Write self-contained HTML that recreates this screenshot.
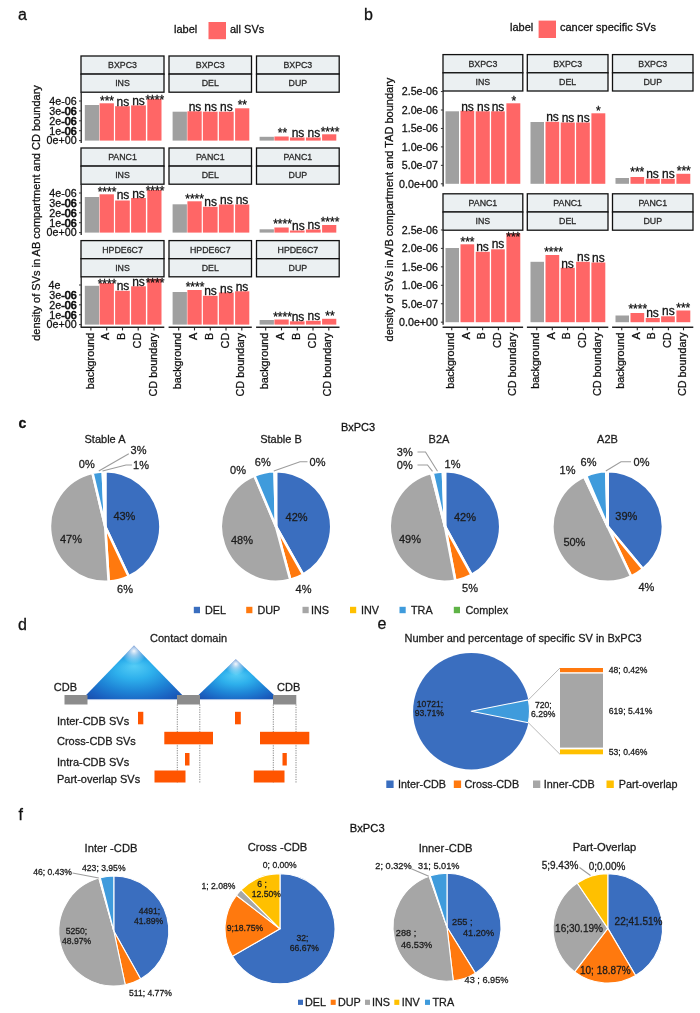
<!DOCTYPE html>
<html><head><meta charset="utf-8"><title>figure</title>
<style>html,body{margin:0;padding:0;background:#fff}svg{display:block;will-change:transform}text{font-family:"Liberation Sans",sans-serif}</style></head>
<body>
<svg width="700" height="1013" viewBox="0 0 700 1013">
<rect width="700" height="1013" fill="#ffffff"/>
<text x="18" y="19.5" font-size="16" fill="#111111" stroke="#111111" stroke-width="0.28">a</text>
<text x="174" y="33.3" font-size="11" fill="#111111" stroke="#111111" stroke-width="0.28">label</text>
<rect x="208.50" y="22.00" width="17.50" height="17.20" fill="#FF6666"/>
<text x="230" y="33.3" font-size="11" fill="#111111" stroke="#111111" stroke-width="0.28">all SVs</text>
<text x="39.6" y="213" font-size="11" text-anchor="middle" transform="rotate(-90 39.6 213)" fill="#111111" stroke="#111111" stroke-width="0.28">density of SVs in AB compartment and CD boundary</text>
<rect x="81.00" y="56.00" width="83.00" height="18.10" fill="#EBF0F2" stroke="#111" stroke-width="1.3"/>
<rect x="81.00" y="74.10" width="83.00" height="18.10" fill="#EBF0F2" stroke="#111" stroke-width="1.3"/>
<text x="122.5" y="68.05" font-size="8.8" text-anchor="middle" fill="#2a2a2a" stroke="#2a2a2a" stroke-width="0.28">BXPC3</text>
<text x="122.5" y="86.05000000000001" font-size="8.8" text-anchor="middle" fill="#2a2a2a" stroke="#2a2a2a" stroke-width="0.28">INS</text>
<rect x="84.80" y="105.00" width="14.30" height="35.60" fill="#A0A0A0"/>
<rect x="99.60" y="103.30" width="14.30" height="37.30" fill="#FF6666"/>
<rect x="115.10" y="106.20" width="14.70" height="34.40" fill="#FF6666"/>
<rect x="131.10" y="105.40" width="14.80" height="35.20" fill="#FF6666"/>
<rect x="147.30" y="98.80" width="14.20" height="41.80" fill="#FF6666"/>
<text x="107" y="104.54" font-size="12" text-anchor="middle" fill="#111" stroke="#111" stroke-width="0.28">***</text>
<text x="122.9" y="105.5" font-size="12" text-anchor="middle" fill="#111" stroke="#111" stroke-width="0.28">ns</text>
<text x="138.5" y="105" font-size="12" text-anchor="middle" fill="#111" stroke="#111" stroke-width="0.28">ns</text>
<text x="154.8" y="103.74" font-size="12" text-anchor="middle" fill="#111" stroke="#111" stroke-width="0.28">****</text>
<rect x="169.00" y="56.00" width="82.50" height="18.10" fill="#EBF0F2" stroke="#111" stroke-width="1.3"/>
<rect x="169.00" y="74.10" width="82.50" height="18.10" fill="#EBF0F2" stroke="#111" stroke-width="1.3"/>
<text x="210.25" y="68.05" font-size="8.8" text-anchor="middle" fill="#2a2a2a" stroke="#2a2a2a" stroke-width="0.28">BXPC3</text>
<text x="210.25" y="86.05000000000001" font-size="8.8" text-anchor="middle" fill="#2a2a2a" stroke="#2a2a2a" stroke-width="0.28">DEL</text>
<rect x="172.60" y="111.70" width="14.30" height="28.90" fill="#A0A0A0"/>
<rect x="187.40" y="111.30" width="14.30" height="29.30" fill="#FF6666"/>
<rect x="202.90" y="111.70" width="14.70" height="28.90" fill="#FF6666"/>
<rect x="218.90" y="111.70" width="14.80" height="28.90" fill="#FF6666"/>
<rect x="235.10" y="108.30" width="14.20" height="32.30" fill="#FF6666"/>
<text x="195" y="110.8" font-size="12" text-anchor="middle" fill="#111" stroke="#111" stroke-width="0.28">ns</text>
<text x="210.6" y="111.2" font-size="12" text-anchor="middle" fill="#111" stroke="#111" stroke-width="0.28">ns</text>
<text x="226.3" y="110.8" font-size="12" text-anchor="middle" fill="#111" stroke="#111" stroke-width="0.28">ns</text>
<text x="242.3" y="108.74" font-size="12" text-anchor="middle" fill="#111" stroke="#111" stroke-width="0.28">**</text>
<rect x="256.50" y="56.00" width="82.70" height="18.10" fill="#EBF0F2" stroke="#111" stroke-width="1.3"/>
<rect x="256.50" y="74.10" width="82.70" height="18.10" fill="#EBF0F2" stroke="#111" stroke-width="1.3"/>
<text x="297.85" y="68.05" font-size="8.8" text-anchor="middle" fill="#2a2a2a" stroke="#2a2a2a" stroke-width="0.28">BXPC3</text>
<text x="297.85" y="86.05000000000001" font-size="8.8" text-anchor="middle" fill="#2a2a2a" stroke="#2a2a2a" stroke-width="0.28">DUP</text>
<rect x="259.60" y="136.80" width="14.30" height="3.80" fill="#A0A0A0"/>
<rect x="274.40" y="136.50" width="14.30" height="4.10" fill="#FF6666"/>
<rect x="289.90" y="137.50" width="14.70" height="3.10" fill="#FF6666"/>
<rect x="305.90" y="137.50" width="14.80" height="3.10" fill="#FF6666"/>
<rect x="322.10" y="134.30" width="14.20" height="6.30" fill="#FF6666"/>
<text x="282.4" y="137.04" font-size="12" text-anchor="middle" fill="#111" stroke="#111" stroke-width="0.28">**</text>
<text x="298" y="137" font-size="12" text-anchor="middle" fill="#111" stroke="#111" stroke-width="0.28">ns</text>
<text x="313.8" y="137" font-size="12" text-anchor="middle" fill="#111" stroke="#111" stroke-width="0.28">ns</text>
<text x="330" y="135.54" font-size="12" text-anchor="middle" fill="#111" stroke="#111" stroke-width="0.28">****</text>
<line x1="81.20" y1="92.20" x2="81.20" y2="143.00" stroke="#222" stroke-width="1.3"/>
<line x1="79.00" y1="140.60" x2="81.20" y2="140.60" stroke="#333" stroke-width="1.0"/>
<text x="76.6" y="144.4" font-size="10.7" text-anchor="end" fill="#111111" stroke="#111111" stroke-width="0.28">0e+00</text>
<line x1="79.00" y1="130.70" x2="81.20" y2="130.70" stroke="#333" stroke-width="1.0"/>
<text x="76.6" y="134.5" font-size="10.7" text-anchor="end" fill="#111111" stroke="#111111" stroke-width="0.28">1e<tspan stroke-width="0.75">-06</tspan></text>
<line x1="79.00" y1="120.80" x2="81.20" y2="120.80" stroke="#333" stroke-width="1.0"/>
<text x="76.6" y="124.6" font-size="10.7" text-anchor="end" fill="#111111" stroke="#111111" stroke-width="0.28">2e<tspan stroke-width="0.75">-06</tspan></text>
<line x1="79.00" y1="110.90" x2="81.20" y2="110.90" stroke="#333" stroke-width="1.0"/>
<text x="76.6" y="114.7" font-size="10.7" text-anchor="end" fill="#111111" stroke="#111111" stroke-width="0.28">3e<tspan stroke-width="0.75">-06</tspan></text>
<line x1="79.00" y1="101.00" x2="81.20" y2="101.00" stroke="#333" stroke-width="1.0"/>
<text x="76.6" y="104.8" font-size="10.7" text-anchor="end" fill="#111111" stroke="#111111" stroke-width="0.28">4e-06</text>
<rect x="81.00" y="148.00" width="83.00" height="18.10" fill="#EBF0F2" stroke="#111" stroke-width="1.3"/>
<rect x="81.00" y="166.10" width="83.00" height="18.10" fill="#EBF0F2" stroke="#111" stroke-width="1.3"/>
<text x="122.5" y="160.05" font-size="8.8" text-anchor="middle" fill="#2a2a2a" stroke="#2a2a2a" stroke-width="0.28">PANC1</text>
<text x="122.5" y="178.05" font-size="8.8" text-anchor="middle" fill="#2a2a2a" stroke="#2a2a2a" stroke-width="0.28">INS</text>
<rect x="84.80" y="197.00" width="14.30" height="35.60" fill="#A0A0A0"/>
<rect x="99.60" y="194.30" width="14.30" height="38.30" fill="#FF6666"/>
<rect x="115.10" y="200.50" width="14.70" height="32.10" fill="#FF6666"/>
<rect x="131.10" y="198.00" width="14.80" height="34.60" fill="#FF6666"/>
<rect x="147.30" y="190.00" width="14.20" height="42.60" fill="#FF6666"/>
<text x="107" y="195.54" font-size="12" text-anchor="middle" fill="#111" stroke="#111" stroke-width="0.28">****</text>
<text x="123" y="199.3" font-size="12" text-anchor="middle" fill="#111" stroke="#111" stroke-width="0.28">ns</text>
<text x="138.5" y="197.5" font-size="12" text-anchor="middle" fill="#111" stroke="#111" stroke-width="0.28">ns</text>
<text x="155" y="194.54" font-size="12" text-anchor="middle" fill="#111" stroke="#111" stroke-width="0.28">****</text>
<rect x="169.00" y="148.00" width="82.50" height="18.10" fill="#EBF0F2" stroke="#111" stroke-width="1.3"/>
<rect x="169.00" y="166.10" width="82.50" height="18.10" fill="#EBF0F2" stroke="#111" stroke-width="1.3"/>
<text x="210.25" y="160.05" font-size="8.8" text-anchor="middle" fill="#2a2a2a" stroke="#2a2a2a" stroke-width="0.28">PANC1</text>
<text x="210.25" y="178.05" font-size="8.8" text-anchor="middle" fill="#2a2a2a" stroke="#2a2a2a" stroke-width="0.28">DEL</text>
<rect x="172.60" y="204.30" width="14.30" height="28.30" fill="#A0A0A0"/>
<rect x="187.40" y="201.30" width="14.30" height="31.30" fill="#FF6666"/>
<rect x="202.90" y="206.80" width="14.70" height="25.80" fill="#FF6666"/>
<rect x="218.90" y="204.50" width="14.80" height="28.10" fill="#FF6666"/>
<rect x="235.10" y="204.50" width="14.20" height="28.10" fill="#FF6666"/>
<text x="194.6" y="202.54" font-size="12" text-anchor="middle" fill="#111" stroke="#111" stroke-width="0.28">****</text>
<text x="210.6" y="206.3" font-size="12" text-anchor="middle" fill="#111" stroke="#111" stroke-width="0.28">ns</text>
<text x="226.3" y="204.3" font-size="12" text-anchor="middle" fill="#111" stroke="#111" stroke-width="0.28">ns</text>
<text x="242" y="204.3" font-size="12" text-anchor="middle" fill="#111" stroke="#111" stroke-width="0.28">ns</text>
<rect x="256.50" y="148.00" width="82.70" height="18.10" fill="#EBF0F2" stroke="#111" stroke-width="1.3"/>
<rect x="256.50" y="166.10" width="82.70" height="18.10" fill="#EBF0F2" stroke="#111" stroke-width="1.3"/>
<text x="297.85" y="160.05" font-size="8.8" text-anchor="middle" fill="#2a2a2a" stroke="#2a2a2a" stroke-width="0.28">PANC1</text>
<text x="297.85" y="178.05" font-size="8.8" text-anchor="middle" fill="#2a2a2a" stroke="#2a2a2a" stroke-width="0.28">DUP</text>
<rect x="259.60" y="229.30" width="14.30" height="3.30" fill="#A0A0A0"/>
<rect x="274.40" y="227.50" width="14.30" height="5.10" fill="#FF6666"/>
<rect x="289.90" y="230.50" width="14.70" height="2.10" fill="#FF6666"/>
<rect x="305.90" y="229.50" width="14.80" height="3.10" fill="#FF6666"/>
<rect x="322.10" y="225.00" width="14.20" height="7.60" fill="#FF6666"/>
<text x="282.5" y="227.54" font-size="12" text-anchor="middle" fill="#111" stroke="#111" stroke-width="0.28">****</text>
<text x="298.3" y="230" font-size="12" text-anchor="middle" fill="#111" stroke="#111" stroke-width="0.28">ns</text>
<text x="313.8" y="228.8" font-size="12" text-anchor="middle" fill="#111" stroke="#111" stroke-width="0.28">ns</text>
<text x="330" y="225.74" font-size="12" text-anchor="middle" fill="#111" stroke="#111" stroke-width="0.28">****</text>
<line x1="81.20" y1="184.20" x2="81.20" y2="235.00" stroke="#222" stroke-width="1.3"/>
<line x1="79.00" y1="232.60" x2="81.20" y2="232.60" stroke="#333" stroke-width="1.0"/>
<text x="76.6" y="236.4" font-size="10.7" text-anchor="end" fill="#111111" stroke="#111111" stroke-width="0.28">0e+00</text>
<line x1="79.00" y1="222.70" x2="81.20" y2="222.70" stroke="#333" stroke-width="1.0"/>
<text x="76.6" y="226.5" font-size="10.7" text-anchor="end" fill="#111111" stroke="#111111" stroke-width="0.28">1e<tspan stroke-width="0.75">-06</tspan></text>
<line x1="79.00" y1="212.80" x2="81.20" y2="212.80" stroke="#333" stroke-width="1.0"/>
<text x="76.6" y="216.6" font-size="10.7" text-anchor="end" fill="#111111" stroke="#111111" stroke-width="0.28">2e<tspan stroke-width="0.75">-06</tspan></text>
<line x1="79.00" y1="202.90" x2="81.20" y2="202.90" stroke="#333" stroke-width="1.0"/>
<text x="76.6" y="206.7" font-size="10.7" text-anchor="end" fill="#111111" stroke="#111111" stroke-width="0.28">3e<tspan stroke-width="0.75">-06</tspan></text>
<line x1="79.00" y1="193.00" x2="81.20" y2="193.00" stroke="#333" stroke-width="1.0"/>
<text x="76.6" y="196.8" font-size="10.7" text-anchor="end" fill="#111111" stroke="#111111" stroke-width="0.28">4e-06</text>
<rect x="81.00" y="240.60" width="83.00" height="18.10" fill="#EBF0F2" stroke="#111" stroke-width="1.3"/>
<rect x="81.00" y="258.70" width="83.00" height="18.10" fill="#EBF0F2" stroke="#111" stroke-width="1.3"/>
<text x="122.5" y="252.65" font-size="8.8" text-anchor="middle" fill="#2a2a2a" stroke="#2a2a2a" stroke-width="0.28">HPDE6C7</text>
<text x="122.5" y="270.65" font-size="8.8" text-anchor="middle" fill="#2a2a2a" stroke="#2a2a2a" stroke-width="0.28">INS</text>
<rect x="84.80" y="285.80" width="14.30" height="38.80" fill="#A0A0A0"/>
<rect x="99.60" y="283.00" width="14.30" height="41.60" fill="#FF6666"/>
<rect x="115.10" y="290.80" width="14.70" height="33.80" fill="#FF6666"/>
<rect x="131.10" y="286.30" width="14.80" height="38.30" fill="#FF6666"/>
<rect x="147.30" y="278.80" width="14.20" height="45.80" fill="#FF6666"/>
<text x="107" y="287.54" font-size="12" text-anchor="middle" fill="#111" stroke="#111" stroke-width="0.28">****</text>
<text x="123" y="290" font-size="12" text-anchor="middle" fill="#111" stroke="#111" stroke-width="0.28">ns</text>
<text x="138.5" y="285.8" font-size="12" text-anchor="middle" fill="#111" stroke="#111" stroke-width="0.28">ns</text>
<text x="155" y="287.04" font-size="12" text-anchor="middle" fill="#111" stroke="#111" stroke-width="0.28">****</text>
<rect x="169.00" y="240.60" width="82.50" height="18.10" fill="#EBF0F2" stroke="#111" stroke-width="1.3"/>
<rect x="169.00" y="258.70" width="82.50" height="18.10" fill="#EBF0F2" stroke="#111" stroke-width="1.3"/>
<text x="210.25" y="252.65" font-size="8.8" text-anchor="middle" fill="#2a2a2a" stroke="#2a2a2a" stroke-width="0.28">HPDE6C7</text>
<text x="210.25" y="270.65" font-size="8.8" text-anchor="middle" fill="#2a2a2a" stroke="#2a2a2a" stroke-width="0.28">DEL</text>
<rect x="172.60" y="292.00" width="14.30" height="32.60" fill="#A0A0A0"/>
<rect x="187.40" y="290.00" width="14.30" height="34.60" fill="#FF6666"/>
<rect x="202.90" y="295.80" width="14.70" height="28.80" fill="#FF6666"/>
<rect x="218.90" y="292.50" width="14.80" height="32.10" fill="#FF6666"/>
<rect x="235.10" y="291.30" width="14.20" height="33.30" fill="#FF6666"/>
<text x="195" y="291.24" font-size="12" text-anchor="middle" fill="#111" stroke="#111" stroke-width="0.28">****</text>
<text x="210.5" y="295" font-size="12" text-anchor="middle" fill="#111" stroke="#111" stroke-width="0.28">ns</text>
<text x="226.3" y="292.5" font-size="12" text-anchor="middle" fill="#111" stroke="#111" stroke-width="0.28">ns</text>
<text x="242" y="291.3" font-size="12" text-anchor="middle" fill="#111" stroke="#111" stroke-width="0.28">ns</text>
<rect x="256.50" y="240.60" width="82.70" height="18.10" fill="#EBF0F2" stroke="#111" stroke-width="1.3"/>
<rect x="256.50" y="258.70" width="82.70" height="18.10" fill="#EBF0F2" stroke="#111" stroke-width="1.3"/>
<text x="297.85" y="252.65" font-size="8.8" text-anchor="middle" fill="#2a2a2a" stroke="#2a2a2a" stroke-width="0.28">HPDE6C7</text>
<text x="297.85" y="270.65" font-size="8.8" text-anchor="middle" fill="#2a2a2a" stroke="#2a2a2a" stroke-width="0.28">DUP</text>
<rect x="259.60" y="320.00" width="14.30" height="4.60" fill="#A0A0A0"/>
<rect x="274.40" y="319.50" width="14.30" height="5.10" fill="#FF6666"/>
<rect x="289.90" y="321.30" width="14.70" height="3.30" fill="#FF6666"/>
<rect x="305.90" y="320.80" width="14.80" height="3.80" fill="#FF6666"/>
<rect x="322.10" y="318.80" width="14.20" height="5.80" fill="#FF6666"/>
<text x="282.5" y="320.74" font-size="12" text-anchor="middle" fill="#111" stroke="#111" stroke-width="0.28">****</text>
<text x="298" y="321.3" font-size="12" text-anchor="middle" fill="#111" stroke="#111" stroke-width="0.28">ns</text>
<text x="313.8" y="320" font-size="12" text-anchor="middle" fill="#111" stroke="#111" stroke-width="0.28">ns</text>
<text x="330" y="319.54" font-size="12" text-anchor="middle" fill="#111" stroke="#111" stroke-width="0.28">**</text>
<line x1="81.20" y1="276.80" x2="81.20" y2="327.00" stroke="#222" stroke-width="1.3"/>
<line x1="79.00" y1="324.60" x2="81.20" y2="324.60" stroke="#333" stroke-width="1.0"/>
<text x="76.6" y="328.4" font-size="10.7" text-anchor="end" fill="#111111" stroke="#111111" stroke-width="0.28">0e+00</text>
<line x1="79.00" y1="314.70" x2="81.20" y2="314.70" stroke="#333" stroke-width="1.0"/>
<text x="76.6" y="318.5" font-size="10.7" text-anchor="end" fill="#111111" stroke="#111111" stroke-width="0.28">1e<tspan stroke-width="0.75">-06</tspan></text>
<line x1="79.00" y1="304.80" x2="81.20" y2="304.80" stroke="#333" stroke-width="1.0"/>
<text x="76.6" y="308.6" font-size="10.7" text-anchor="end" fill="#111111" stroke="#111111" stroke-width="0.28">2e<tspan stroke-width="0.75">-06</tspan></text>
<line x1="79.00" y1="294.90" x2="81.20" y2="294.90" stroke="#333" stroke-width="1.0"/>
<text x="76.6" y="298.7" font-size="10.7" text-anchor="end" fill="#111111" stroke="#111111" stroke-width="0.28">3e<tspan stroke-width="0.75">-06</tspan></text>
<line x1="79.00" y1="285.00" x2="81.20" y2="285.00" stroke="#333" stroke-width="1.0"/>
<text x="48.6" y="288.8" font-size="10.7" fill="#111111" stroke="#111111" stroke-width="0.28">4e</text>
<line x1="80.60" y1="327.30" x2="164.30" y2="327.30" stroke="#222" stroke-width="1.4"/>
<line x1="90.90" y1="327.50" x2="90.90" y2="330.40" stroke="#222" stroke-width="1.1"/>
<text x="93.6" y="332.8" font-size="10.8" text-anchor="end" transform="rotate(-90 93.6 332.8)" fill="#111111" stroke="#111111" stroke-width="0.28">background</text>
<line x1="106.70" y1="327.50" x2="106.70" y2="330.40" stroke="#222" stroke-width="1.1"/>
<text x="109.4" y="332.8" font-size="10.8" text-anchor="end" transform="rotate(-90 109.4 332.8)" fill="#111111" stroke="#111111" stroke-width="0.28">A</text>
<line x1="122.50" y1="327.50" x2="122.50" y2="330.40" stroke="#222" stroke-width="1.1"/>
<text x="125.2" y="332.8" font-size="10.8" text-anchor="end" transform="rotate(-90 125.2 332.8)" fill="#111111" stroke="#111111" stroke-width="0.28">B</text>
<line x1="138.20" y1="327.50" x2="138.20" y2="330.40" stroke="#222" stroke-width="1.1"/>
<text x="140.9" y="332.8" font-size="10.8" text-anchor="end" transform="rotate(-90 140.9 332.8)" fill="#111111" stroke="#111111" stroke-width="0.28">CD</text>
<line x1="154.00" y1="327.50" x2="154.00" y2="330.40" stroke="#222" stroke-width="1.1"/>
<text x="156.7" y="332.8" font-size="10.8" text-anchor="end" transform="rotate(-90 156.7 332.8)" fill="#111111" stroke="#111111" stroke-width="0.28">CD boundary</text>
<line x1="168.60" y1="327.30" x2="251.80" y2="327.30" stroke="#222" stroke-width="1.4"/>
<line x1="178.70" y1="327.50" x2="178.70" y2="330.40" stroke="#222" stroke-width="1.1"/>
<text x="181.4" y="332.8" font-size="10.8" text-anchor="end" transform="rotate(-90 181.4 332.8)" fill="#111111" stroke="#111111" stroke-width="0.28">background</text>
<line x1="194.50" y1="327.50" x2="194.50" y2="330.40" stroke="#222" stroke-width="1.1"/>
<text x="197.2" y="332.8" font-size="10.8" text-anchor="end" transform="rotate(-90 197.2 332.8)" fill="#111111" stroke="#111111" stroke-width="0.28">A</text>
<line x1="210.30" y1="327.50" x2="210.30" y2="330.40" stroke="#222" stroke-width="1.1"/>
<text x="213.0" y="332.8" font-size="10.8" text-anchor="end" transform="rotate(-90 213.0 332.8)" fill="#111111" stroke="#111111" stroke-width="0.28">B</text>
<line x1="226.00" y1="327.50" x2="226.00" y2="330.40" stroke="#222" stroke-width="1.1"/>
<text x="228.7" y="332.8" font-size="10.8" text-anchor="end" transform="rotate(-90 228.7 332.8)" fill="#111111" stroke="#111111" stroke-width="0.28">CD</text>
<line x1="241.80" y1="327.50" x2="241.80" y2="330.40" stroke="#222" stroke-width="1.1"/>
<text x="244.5" y="332.8" font-size="10.8" text-anchor="end" transform="rotate(-90 244.5 332.8)" fill="#111111" stroke="#111111" stroke-width="0.28">CD boundary</text>
<line x1="256.10" y1="327.30" x2="339.50" y2="327.30" stroke="#222" stroke-width="1.4"/>
<line x1="265.70" y1="327.50" x2="265.70" y2="330.40" stroke="#222" stroke-width="1.1"/>
<text x="268.4" y="332.8" font-size="10.8" text-anchor="end" transform="rotate(-90 268.4 332.8)" fill="#111111" stroke="#111111" stroke-width="0.28">background</text>
<line x1="281.50" y1="327.50" x2="281.50" y2="330.40" stroke="#222" stroke-width="1.1"/>
<text x="284.2" y="332.8" font-size="10.8" text-anchor="end" transform="rotate(-90 284.2 332.8)" fill="#111111" stroke="#111111" stroke-width="0.28">A</text>
<line x1="297.30" y1="327.50" x2="297.30" y2="330.40" stroke="#222" stroke-width="1.1"/>
<text x="300.0" y="332.8" font-size="10.8" text-anchor="end" transform="rotate(-90 300.0 332.8)" fill="#111111" stroke="#111111" stroke-width="0.28">B</text>
<line x1="313.00" y1="327.50" x2="313.00" y2="330.40" stroke="#222" stroke-width="1.1"/>
<text x="315.7" y="332.8" font-size="10.8" text-anchor="end" transform="rotate(-90 315.7 332.8)" fill="#111111" stroke="#111111" stroke-width="0.28">CD</text>
<line x1="328.80" y1="327.50" x2="328.80" y2="330.40" stroke="#222" stroke-width="1.1"/>
<text x="331.5" y="332.8" font-size="10.8" text-anchor="end" transform="rotate(-90 331.5 332.8)" fill="#111111" stroke="#111111" stroke-width="0.28">CD boundary</text>
<text x="364" y="19.5" font-size="16" fill="#111111" stroke="#111111" stroke-width="0.28">b</text>
<text x="510" y="31.3" font-size="11" fill="#111111" stroke="#111111" stroke-width="0.28">label</text>
<rect x="538.60" y="20.60" width="17.40" height="17.40" fill="#FF6666"/>
<text x="560" y="31.3" font-size="11" fill="#111111" stroke="#111111" stroke-width="0.28">cancer specific SVs</text>
<text x="392.5" y="209.5" font-size="11" text-anchor="middle" transform="rotate(-90 392.5 209.5)" fill="#111111" stroke="#111111" stroke-width="0.28">density of SVs in A/B compartment and TAD boundary</text>
<rect x="443.00" y="54.60" width="79.80" height="18.20" fill="#EBF0F2" stroke="#111" stroke-width="1.3"/>
<rect x="443.00" y="72.80" width="79.80" height="18.20" fill="#EBF0F2" stroke="#111" stroke-width="1.3"/>
<text x="482.9" y="66.7" font-size="8.8" text-anchor="middle" fill="#2a2a2a" stroke="#2a2a2a" stroke-width="0.28">BXPC3</text>
<text x="482.9" y="84.80000000000001" font-size="8.8" text-anchor="middle" fill="#2a2a2a" stroke="#2a2a2a" stroke-width="0.28">INS</text>
<rect x="445.50" y="111.30" width="13.50" height="72.50" fill="#A0A0A0"/>
<rect x="460.50" y="110.80" width="13.70" height="73.00" fill="#FF6666"/>
<rect x="475.70" y="111.30" width="14.10" height="72.50" fill="#FF6666"/>
<rect x="491.10" y="111.30" width="13.70" height="72.50" fill="#FF6666"/>
<rect x="506.40" y="103.30" width="13.90" height="80.50" fill="#FF6666"/>
<text x="467.5" y="110.8" font-size="12" text-anchor="middle" fill="#111" stroke="#111" stroke-width="0.28">ns</text>
<text x="483.3" y="110.8" font-size="12" text-anchor="middle" fill="#111" stroke="#111" stroke-width="0.28">ns</text>
<text x="498" y="110.8" font-size="12" text-anchor="middle" fill="#111" stroke="#111" stroke-width="0.28">ns</text>
<text x="513.8" y="104.54" font-size="12" text-anchor="middle" fill="#111" stroke="#111" stroke-width="0.28">*</text>
<rect x="527.30" y="54.60" width="80.70" height="18.20" fill="#EBF0F2" stroke="#111" stroke-width="1.3"/>
<rect x="527.30" y="72.80" width="80.70" height="18.20" fill="#EBF0F2" stroke="#111" stroke-width="1.3"/>
<text x="567.65" y="66.7" font-size="8.8" text-anchor="middle" fill="#2a2a2a" stroke="#2a2a2a" stroke-width="0.28">BXPC3</text>
<text x="567.65" y="84.80000000000001" font-size="8.8" text-anchor="middle" fill="#2a2a2a" stroke="#2a2a2a" stroke-width="0.28">DEL</text>
<rect x="530.50" y="122.00" width="13.50" height="61.80" fill="#A0A0A0"/>
<rect x="545.50" y="121.80" width="13.70" height="62.00" fill="#FF6666"/>
<rect x="560.70" y="122.50" width="14.10" height="61.30" fill="#FF6666"/>
<rect x="576.10" y="122.50" width="13.70" height="61.30" fill="#FF6666"/>
<rect x="591.40" y="113.30" width="13.90" height="70.50" fill="#FF6666"/>
<text x="552.5" y="121.3" font-size="12" text-anchor="middle" fill="#111" stroke="#111" stroke-width="0.28">ns</text>
<text x="568" y="121.8" font-size="12" text-anchor="middle" fill="#111" stroke="#111" stroke-width="0.28">ns</text>
<text x="583.3" y="121.8" font-size="12" text-anchor="middle" fill="#111" stroke="#111" stroke-width="0.28">ns</text>
<text x="598.3" y="114.54" font-size="12" text-anchor="middle" fill="#111" stroke="#111" stroke-width="0.28">*</text>
<rect x="612.50" y="54.60" width="80.50" height="18.20" fill="#EBF0F2" stroke="#111" stroke-width="1.3"/>
<rect x="612.50" y="72.80" width="80.50" height="18.20" fill="#EBF0F2" stroke="#111" stroke-width="1.3"/>
<text x="652.75" y="66.7" font-size="8.8" text-anchor="middle" fill="#2a2a2a" stroke="#2a2a2a" stroke-width="0.28">BXPC3</text>
<text x="652.75" y="84.80000000000001" font-size="8.8" text-anchor="middle" fill="#2a2a2a" stroke="#2a2a2a" stroke-width="0.28">DUP</text>
<rect x="615.50" y="178.00" width="13.50" height="5.80" fill="#A0A0A0"/>
<rect x="630.50" y="177.00" width="13.70" height="6.80" fill="#FF6666"/>
<rect x="645.70" y="178.80" width="14.10" height="5.00" fill="#FF6666"/>
<rect x="661.10" y="178.80" width="13.70" height="5.00" fill="#FF6666"/>
<rect x="676.40" y="173.80" width="13.90" height="10.00" fill="#FF6666"/>
<text x="637.3" y="175.54" font-size="12" text-anchor="middle" fill="#111" stroke="#111" stroke-width="0.28">***</text>
<text x="652.5" y="178" font-size="12" text-anchor="middle" fill="#111" stroke="#111" stroke-width="0.28">ns</text>
<text x="668.3" y="177.5" font-size="12" text-anchor="middle" fill="#111" stroke="#111" stroke-width="0.28">ns</text>
<text x="683.8" y="174.54" font-size="12" text-anchor="middle" fill="#111" stroke="#111" stroke-width="0.28">***</text>
<line x1="443.10" y1="91.00" x2="443.10" y2="186.40" stroke="#222" stroke-width="1.3"/>
<line x1="440.90" y1="183.80" x2="443.10" y2="183.80" stroke="#333" stroke-width="1.0"/>
<text x="438" y="187.6" font-size="10.7" text-anchor="end" fill="#111111" stroke="#111111" stroke-width="0.28">0.0e+00</text>
<line x1="440.90" y1="165.35" x2="443.10" y2="165.35" stroke="#333" stroke-width="1.0"/>
<text x="438" y="169.15" font-size="10.7" text-anchor="end" fill="#111111" stroke="#111111" stroke-width="0.28">5.0e-07</text>
<line x1="440.90" y1="146.90" x2="443.10" y2="146.90" stroke="#333" stroke-width="1.0"/>
<text x="438" y="150.7" font-size="10.7" text-anchor="end" fill="#111111" stroke="#111111" stroke-width="0.28">1.0e-06</text>
<line x1="440.90" y1="128.45" x2="443.10" y2="128.45" stroke="#333" stroke-width="1.0"/>
<text x="438" y="132.25" font-size="10.7" text-anchor="end" fill="#111111" stroke="#111111" stroke-width="0.28">1.5e-06</text>
<line x1="440.90" y1="110.00" x2="443.10" y2="110.00" stroke="#333" stroke-width="1.0"/>
<text x="438" y="113.8" font-size="10.7" text-anchor="end" fill="#111111" stroke="#111111" stroke-width="0.28">2.0e-06</text>
<line x1="440.90" y1="91.55" x2="443.10" y2="91.55" stroke="#333" stroke-width="1.0"/>
<text x="438" y="95.35" font-size="10.7" text-anchor="end" fill="#111111" stroke="#111111" stroke-width="0.28">2.5e-06</text>
<rect x="443.00" y="193.80" width="79.80" height="18.20" fill="#EBF0F2" stroke="#111" stroke-width="1.3"/>
<rect x="443.00" y="212.00" width="79.80" height="18.20" fill="#EBF0F2" stroke="#111" stroke-width="1.3"/>
<text x="482.9" y="205.9" font-size="8.8" text-anchor="middle" fill="#2a2a2a" stroke="#2a2a2a" stroke-width="0.28">PANC1</text>
<text x="482.9" y="224.00000000000003" font-size="8.8" text-anchor="middle" fill="#2a2a2a" stroke="#2a2a2a" stroke-width="0.28">INS</text>
<rect x="445.50" y="248.00" width="13.50" height="74.20" fill="#A0A0A0"/>
<rect x="460.50" y="244.30" width="13.70" height="77.90" fill="#FF6666"/>
<rect x="475.70" y="251.80" width="14.10" height="70.40" fill="#FF6666"/>
<rect x="491.10" y="249.30" width="13.70" height="72.90" fill="#FF6666"/>
<rect x="506.40" y="233.30" width="13.90" height="88.90" fill="#FF6666"/>
<text x="467.5" y="245.54" font-size="12" text-anchor="middle" fill="#111" stroke="#111" stroke-width="0.28">***</text>
<text x="482.5" y="251.3" font-size="12" text-anchor="middle" fill="#111" stroke="#111" stroke-width="0.28">ns</text>
<text x="498" y="248.3" font-size="12" text-anchor="middle" fill="#111" stroke="#111" stroke-width="0.28">ns</text>
<text x="513.3" y="240.54" font-size="12" text-anchor="middle" fill="#111" stroke="#111" stroke-width="0.28">***</text>
<rect x="527.30" y="193.80" width="80.70" height="18.20" fill="#EBF0F2" stroke="#111" stroke-width="1.3"/>
<rect x="527.30" y="212.00" width="80.70" height="18.20" fill="#EBF0F2" stroke="#111" stroke-width="1.3"/>
<text x="567.65" y="205.9" font-size="8.8" text-anchor="middle" fill="#2a2a2a" stroke="#2a2a2a" stroke-width="0.28">PANC1</text>
<text x="567.65" y="224.00000000000003" font-size="8.8" text-anchor="middle" fill="#2a2a2a" stroke="#2a2a2a" stroke-width="0.28">DEL</text>
<rect x="530.50" y="261.80" width="13.50" height="60.40" fill="#A0A0A0"/>
<rect x="545.50" y="255.00" width="13.70" height="67.20" fill="#FF6666"/>
<rect x="560.70" y="267.80" width="14.10" height="54.40" fill="#FF6666"/>
<rect x="576.10" y="261.80" width="13.70" height="60.40" fill="#FF6666"/>
<rect x="591.40" y="262.50" width="13.90" height="59.70" fill="#FF6666"/>
<text x="553.5" y="256.24" font-size="12" text-anchor="middle" fill="#111" stroke="#111" stroke-width="0.28">****</text>
<text x="567.5" y="267.5" font-size="12" text-anchor="middle" fill="#111" stroke="#111" stroke-width="0.28">ns</text>
<text x="583.3" y="261.3" font-size="12" text-anchor="middle" fill="#111" stroke="#111" stroke-width="0.28">ns</text>
<text x="598.3" y="262" font-size="12" text-anchor="middle" fill="#111" stroke="#111" stroke-width="0.28">ns</text>
<rect x="612.50" y="193.80" width="80.50" height="18.20" fill="#EBF0F2" stroke="#111" stroke-width="1.3"/>
<rect x="612.50" y="212.00" width="80.50" height="18.20" fill="#EBF0F2" stroke="#111" stroke-width="1.3"/>
<text x="652.75" y="205.9" font-size="8.8" text-anchor="middle" fill="#2a2a2a" stroke="#2a2a2a" stroke-width="0.28">PANC1</text>
<text x="652.75" y="224.00000000000003" font-size="8.8" text-anchor="middle" fill="#2a2a2a" stroke="#2a2a2a" stroke-width="0.28">DUP</text>
<rect x="615.50" y="315.50" width="13.50" height="6.70" fill="#A0A0A0"/>
<rect x="630.50" y="313.00" width="13.70" height="9.20" fill="#FF6666"/>
<rect x="645.70" y="318.00" width="14.10" height="4.20" fill="#FF6666"/>
<rect x="661.10" y="316.30" width="13.70" height="5.90" fill="#FF6666"/>
<rect x="676.40" y="310.50" width="13.90" height="11.70" fill="#FF6666"/>
<text x="637.8" y="313.24" font-size="12" text-anchor="middle" fill="#111" stroke="#111" stroke-width="0.28">****</text>
<text x="652.5" y="317" font-size="12" text-anchor="middle" fill="#111" stroke="#111" stroke-width="0.28">ns</text>
<text x="668.3" y="315" font-size="12" text-anchor="middle" fill="#111" stroke="#111" stroke-width="0.28">ns</text>
<text x="683.3" y="312.04" font-size="12" text-anchor="middle" fill="#111" stroke="#111" stroke-width="0.28">***</text>
<line x1="443.10" y1="230.20" x2="443.10" y2="324.80" stroke="#222" stroke-width="1.3"/>
<line x1="440.90" y1="322.20" x2="443.10" y2="322.20" stroke="#333" stroke-width="1.0"/>
<text x="438" y="326.0" font-size="10.7" text-anchor="end" fill="#111111" stroke="#111111" stroke-width="0.28">0.0e+00</text>
<line x1="440.90" y1="303.75" x2="443.10" y2="303.75" stroke="#333" stroke-width="1.0"/>
<text x="438" y="307.55" font-size="10.7" text-anchor="end" fill="#111111" stroke="#111111" stroke-width="0.28">5.0e-07</text>
<line x1="440.90" y1="285.30" x2="443.10" y2="285.30" stroke="#333" stroke-width="1.0"/>
<text x="438" y="289.1" font-size="10.7" text-anchor="end" fill="#111111" stroke="#111111" stroke-width="0.28">1.0e-06</text>
<line x1="440.90" y1="266.85" x2="443.10" y2="266.85" stroke="#333" stroke-width="1.0"/>
<text x="438" y="270.65" font-size="10.7" text-anchor="end" fill="#111111" stroke="#111111" stroke-width="0.28">1.5e-06</text>
<line x1="440.90" y1="248.40" x2="443.10" y2="248.40" stroke="#333" stroke-width="1.0"/>
<text x="438" y="252.2" font-size="10.7" text-anchor="end" fill="#111111" stroke="#111111" stroke-width="0.28">2.0e-06</text>
<line x1="440.90" y1="229.95" x2="443.10" y2="229.95" stroke="#333" stroke-width="1.0"/>
<text x="438" y="233.75" font-size="10.7" text-anchor="end" fill="#111111" stroke="#111111" stroke-width="0.28">2.5e-06</text>
<line x1="442.60" y1="327.20" x2="523.10" y2="327.20" stroke="#222" stroke-width="1.4"/>
<line x1="451.75" y1="327.40" x2="451.75" y2="330.30" stroke="#222" stroke-width="1.1"/>
<text x="454.45" y="332.4" font-size="10.8" text-anchor="end" transform="rotate(-90 454.45 332.4)" fill="#111111" stroke="#111111" stroke-width="0.28">background</text>
<line x1="467.30" y1="327.40" x2="467.30" y2="330.30" stroke="#222" stroke-width="1.1"/>
<text x="470.0" y="332.4" font-size="10.8" text-anchor="end" transform="rotate(-90 470.0 332.4)" fill="#111111" stroke="#111111" stroke-width="0.28">A</text>
<line x1="482.60" y1="327.40" x2="482.60" y2="330.30" stroke="#222" stroke-width="1.1"/>
<text x="485.3" y="332.4" font-size="10.8" text-anchor="end" transform="rotate(-90 485.3 332.4)" fill="#111111" stroke="#111111" stroke-width="0.28">B</text>
<line x1="498.40" y1="327.40" x2="498.40" y2="330.30" stroke="#222" stroke-width="1.1"/>
<text x="501.1" y="332.4" font-size="10.8" text-anchor="end" transform="rotate(-90 501.1 332.4)" fill="#111111" stroke="#111111" stroke-width="0.28">CD</text>
<line x1="513.50" y1="327.40" x2="513.50" y2="330.30" stroke="#222" stroke-width="1.1"/>
<text x="516.2" y="332.4" font-size="10.8" text-anchor="end" transform="rotate(-90 516.2 332.4)" fill="#111111" stroke="#111111" stroke-width="0.28">CD boundary</text>
<line x1="526.90" y1="327.20" x2="608.30" y2="327.20" stroke="#222" stroke-width="1.4"/>
<line x1="536.75" y1="327.40" x2="536.75" y2="330.30" stroke="#222" stroke-width="1.1"/>
<text x="539.45" y="332.4" font-size="10.8" text-anchor="end" transform="rotate(-90 539.45 332.4)" fill="#111111" stroke="#111111" stroke-width="0.28">background</text>
<line x1="552.30" y1="327.40" x2="552.30" y2="330.30" stroke="#222" stroke-width="1.1"/>
<text x="555.0" y="332.4" font-size="10.8" text-anchor="end" transform="rotate(-90 555.0 332.4)" fill="#111111" stroke="#111111" stroke-width="0.28">A</text>
<line x1="567.60" y1="327.40" x2="567.60" y2="330.30" stroke="#222" stroke-width="1.1"/>
<text x="570.3" y="332.4" font-size="10.8" text-anchor="end" transform="rotate(-90 570.3 332.4)" fill="#111111" stroke="#111111" stroke-width="0.28">B</text>
<line x1="583.40" y1="327.40" x2="583.40" y2="330.30" stroke="#222" stroke-width="1.1"/>
<text x="586.1" y="332.4" font-size="10.8" text-anchor="end" transform="rotate(-90 586.1 332.4)" fill="#111111" stroke="#111111" stroke-width="0.28">CD</text>
<line x1="598.50" y1="327.40" x2="598.50" y2="330.30" stroke="#222" stroke-width="1.1"/>
<text x="601.2" y="332.4" font-size="10.8" text-anchor="end" transform="rotate(-90 601.2 332.4)" fill="#111111" stroke="#111111" stroke-width="0.28">CD boundary</text>
<line x1="612.10" y1="327.20" x2="693.30" y2="327.20" stroke="#222" stroke-width="1.4"/>
<line x1="621.75" y1="327.40" x2="621.75" y2="330.30" stroke="#222" stroke-width="1.1"/>
<text x="624.45" y="332.4" font-size="10.8" text-anchor="end" transform="rotate(-90 624.45 332.4)" fill="#111111" stroke="#111111" stroke-width="0.28">background</text>
<line x1="637.30" y1="327.40" x2="637.30" y2="330.30" stroke="#222" stroke-width="1.1"/>
<text x="640.0" y="332.4" font-size="10.8" text-anchor="end" transform="rotate(-90 640.0 332.4)" fill="#111111" stroke="#111111" stroke-width="0.28">A</text>
<line x1="652.60" y1="327.40" x2="652.60" y2="330.30" stroke="#222" stroke-width="1.1"/>
<text x="655.3" y="332.4" font-size="10.8" text-anchor="end" transform="rotate(-90 655.3 332.4)" fill="#111111" stroke="#111111" stroke-width="0.28">B</text>
<line x1="668.40" y1="327.40" x2="668.40" y2="330.30" stroke="#222" stroke-width="1.1"/>
<text x="671.1" y="332.4" font-size="10.8" text-anchor="end" transform="rotate(-90 671.1 332.4)" fill="#111111" stroke="#111111" stroke-width="0.28">CD</text>
<line x1="683.50" y1="327.40" x2="683.50" y2="330.30" stroke="#222" stroke-width="1.1"/>
<text x="686.2" y="332.4" font-size="10.8" text-anchor="end" transform="rotate(-90 686.2 332.4)" fill="#111111" stroke="#111111" stroke-width="0.28">CD boundary</text>
<text x="18.5" y="428.2" font-size="14" font-weight="bold" fill="#111111" stroke="#111111" stroke-width="0.28">c</text>
<text x="358" y="430.8" font-size="11" text-anchor="middle" fill="#111111" stroke="#111111" stroke-width="0.28">BxPC3</text>
<path d="M105.20,526.50 L105.20,471.30 A55.2,55.2 0 0 1 128.70,576.45 Z" fill="#3A6EBF" stroke="#fff" stroke-width="2.6" stroke-linejoin="round"/>
<path d="M105.20,526.50 L128.70,576.45 A55.2,55.2 0 0 1 108.67,581.59 Z" fill="#FF790E" stroke="#fff" stroke-width="2.6" stroke-linejoin="round"/>
<path d="M105.20,526.50 L108.67,581.59 A55.2,55.2 0 0 1 92.48,472.78 Z" fill="#A6A6A6" stroke="#fff" stroke-width="2.6" stroke-linejoin="round"/>
<path d="M105.20,526.50 L92.48,472.78 A55.2,55.2 0 0 1 102.77,471.35 Z" fill="#3F9BDC" stroke="#fff" stroke-width="2.6" stroke-linejoin="round"/>
<path d="M105.20,526.50 L102.77,471.35 A55.2,55.2 0 0 1 105.20,471.30 Z" fill="#FFFFFF" stroke="#fff" stroke-width="2.6" stroke-linejoin="round"/>
<text x="105" y="442.96" font-size="11" text-anchor="middle" fill="#1c1c1c" stroke="#1c1c1c" stroke-width="0.28">Stable A</text>
<text x="138.5" y="453.96" font-size="11" text-anchor="middle" fill="#1c1c1c" stroke="#1c1c1c" stroke-width="0.28">3%</text>
<text x="141" y="468.96" font-size="11" text-anchor="middle" fill="#1c1c1c" stroke="#1c1c1c" stroke-width="0.28">1%</text>
<text x="86.8" y="467.76" font-size="11" text-anchor="middle" fill="#1c1c1c" stroke="#1c1c1c" stroke-width="0.28">0%</text>
<text x="124.4" y="519.96" font-size="11" text-anchor="middle" fill="#1c1c1c" stroke="#1c1c1c" stroke-width="0.28">43%</text>
<text x="71" y="542.96" font-size="11" text-anchor="middle" fill="#1c1c1c" stroke="#1c1c1c" stroke-width="0.28">47%</text>
<text x="125" y="592.76" font-size="11" text-anchor="middle" fill="#1c1c1c" stroke="#1c1c1c" stroke-width="0.28">6%</text>
<polyline points="98.80,471.00 128.80,453.80" fill="none" stroke="#9C9C9C" stroke-width="1.1"/>
<polyline points="102.50,471.00 126.00,465.00 132.00,465.00" fill="none" stroke="#9C9C9C" stroke-width="1.1"/>
<path d="M276.00,526.50 L276.00,471.30 A55.2,55.2 0 0 1 303.10,574.59 Z" fill="#3A6EBF" stroke="#fff" stroke-width="2.6" stroke-linejoin="round"/>
<path d="M276.00,526.50 L303.10,574.59 A55.2,55.2 0 0 1 290.34,579.80 Z" fill="#FF790E" stroke="#fff" stroke-width="2.6" stroke-linejoin="round"/>
<path d="M276.00,526.50 L290.34,579.80 A55.2,55.2 0 0 1 254.48,475.67 Z" fill="#A6A6A6" stroke="#fff" stroke-width="2.6" stroke-linejoin="round"/>
<path d="M276.00,526.50 L254.48,475.67 A55.2,55.2 0 0 1 274.62,471.32 Z" fill="#3F9BDC" stroke="#fff" stroke-width="2.6" stroke-linejoin="round"/>
<path d="M276.00,526.50 L274.62,471.32 A55.2,55.2 0 0 1 276.00,471.30 Z" fill="#FFFFFF" stroke="#fff" stroke-width="2.6" stroke-linejoin="round"/>
<text x="281" y="442.96" font-size="11" text-anchor="middle" fill="#1c1c1c" stroke="#1c1c1c" stroke-width="0.28">Stable B</text>
<text x="262.8" y="466.46" font-size="11" text-anchor="middle" fill="#1c1c1c" stroke="#1c1c1c" stroke-width="0.28">6%</text>
<text x="238" y="473.96" font-size="11" text-anchor="middle" fill="#1c1c1c" stroke="#1c1c1c" stroke-width="0.28">0%</text>
<text x="317.5" y="465.76" font-size="11" text-anchor="middle" fill="#1c1c1c" stroke="#1c1c1c" stroke-width="0.28">0%</text>
<text x="296.6" y="520.76" font-size="11" text-anchor="middle" fill="#1c1c1c" stroke="#1c1c1c" stroke-width="0.28">42%</text>
<text x="242" y="544.46" font-size="11" text-anchor="middle" fill="#1c1c1c" stroke="#1c1c1c" stroke-width="0.28">48%</text>
<text x="303.5" y="592.76" font-size="11" text-anchor="middle" fill="#1c1c1c" stroke="#1c1c1c" stroke-width="0.28">4%</text>
<polyline points="273.80,471.00 300.00,461.80 307.50,461.80" fill="none" stroke="#9C9C9C" stroke-width="1.1"/>
<path d="M445.00,526.50 L445.00,471.30 A55.2,55.2 0 0 1 471.59,574.87 Z" fill="#3A6EBF" stroke="#fff" stroke-width="2.6" stroke-linejoin="round"/>
<path d="M445.00,526.50 L471.59,574.87 A55.2,55.2 0 0 1 455.34,580.72 Z" fill="#FF790E" stroke="#fff" stroke-width="2.6" stroke-linejoin="round"/>
<path d="M445.00,526.50 L455.34,580.72 A55.2,55.2 0 0 1 431.27,473.03 Z" fill="#A6A6A6" stroke="#fff" stroke-width="2.6" stroke-linejoin="round"/>
<path d="M445.00,526.50 L431.27,473.03 A55.2,55.2 0 0 1 432.62,472.71 Z" fill="#FFFFFF" stroke="#fff" stroke-width="2.6" stroke-linejoin="round"/>
<path d="M445.00,526.50 L432.62,472.71 A55.2,55.2 0 0 1 442.92,471.34 Z" fill="#3F9BDC" stroke="#fff" stroke-width="2.6" stroke-linejoin="round"/>
<path d="M445.00,526.50 L442.92,471.34 A55.2,55.2 0 0 1 445.00,471.30 Z" fill="#FFFFFF" stroke="#fff" stroke-width="2.6" stroke-linejoin="round"/>
<text x="439" y="442.96" font-size="11" text-anchor="middle" fill="#1c1c1c" stroke="#1c1c1c" stroke-width="0.28">B2A</text>
<text x="404.8" y="455.96" font-size="11" text-anchor="middle" fill="#1c1c1c" stroke="#1c1c1c" stroke-width="0.28">3%</text>
<text x="404.8" y="468.96" font-size="11" text-anchor="middle" fill="#1c1c1c" stroke="#1c1c1c" stroke-width="0.28">0%</text>
<text x="452.5" y="467.76" font-size="11" text-anchor="middle" fill="#1c1c1c" stroke="#1c1c1c" stroke-width="0.28">1%</text>
<text x="465" y="520.76" font-size="11" text-anchor="middle" fill="#1c1c1c" stroke="#1c1c1c" stroke-width="0.28">42%</text>
<text x="410" y="543.26" font-size="11" text-anchor="middle" fill="#1c1c1c" stroke="#1c1c1c" stroke-width="0.28">49%</text>
<text x="470" y="591.96" font-size="11" text-anchor="middle" fill="#1c1c1c" stroke="#1c1c1c" stroke-width="0.28">5%</text>
<polyline points="417.50,452.00 425.50,452.00 437.50,471.30" fill="none" stroke="#9C9C9C" stroke-width="1.1"/>
<polyline points="417.50,465.00 427.50,465.00 432.50,471.30" fill="none" stroke="#9C9C9C" stroke-width="1.1"/>
<path d="M607.70,526.50 L607.70,471.30 A55.2,55.2 0 0 1 642.89,569.03 Z" fill="#3A6EBF" stroke="#fff" stroke-width="2.6" stroke-linejoin="round"/>
<path d="M607.70,526.50 L642.89,569.03 A55.2,55.2 0 0 1 631.20,576.45 Z" fill="#FF790E" stroke="#fff" stroke-width="2.6" stroke-linejoin="round"/>
<path d="M607.70,526.50 L631.20,576.45 A55.2,55.2 0 0 1 584.20,476.55 Z" fill="#A6A6A6" stroke="#fff" stroke-width="2.6" stroke-linejoin="round"/>
<path d="M607.70,526.50 L584.20,476.55 A55.2,55.2 0 0 1 586.10,475.70 Z" fill="#FFFFFF" stroke="#fff" stroke-width="2.6" stroke-linejoin="round"/>
<path d="M607.70,526.50 L586.10,475.70 A55.2,55.2 0 0 1 606.31,471.32 Z" fill="#3F9BDC" stroke="#fff" stroke-width="2.6" stroke-linejoin="round"/>
<path d="M607.70,526.50 L606.31,471.32 A55.2,55.2 0 0 1 607.70,471.30 Z" fill="#FFFFFF" stroke="#fff" stroke-width="2.6" stroke-linejoin="round"/>
<text x="607.5" y="442.96" font-size="11" text-anchor="middle" fill="#1c1c1c" stroke="#1c1c1c" stroke-width="0.28">A2B</text>
<text x="588.5" y="465.76" font-size="11" text-anchor="middle" fill="#1c1c1c" stroke="#1c1c1c" stroke-width="0.28">6%</text>
<text x="567.5" y="473.96" font-size="11" text-anchor="middle" fill="#1c1c1c" stroke="#1c1c1c" stroke-width="0.28">1%</text>
<text x="641.5" y="465.76" font-size="11" text-anchor="middle" fill="#1c1c1c" stroke="#1c1c1c" stroke-width="0.28">0%</text>
<text x="626.3" y="519.96" font-size="11" text-anchor="middle" fill="#1c1c1c" stroke="#1c1c1c" stroke-width="0.28">39%</text>
<text x="574.4" y="546.46" font-size="11" text-anchor="middle" fill="#1c1c1c" stroke="#1c1c1c" stroke-width="0.28">50%</text>
<text x="646.4" y="590.76" font-size="11" text-anchor="middle" fill="#1c1c1c" stroke="#1c1c1c" stroke-width="0.28">4%</text>
<polyline points="605.80,471.00 621.00,461.80 631.00,461.80" fill="none" stroke="#9C9C9C" stroke-width="1.1"/>
<rect x="193.80" y="606.80" width="6.20" height="6.40" fill="#3A6EBF"/>
<text x="205" y="613.9" font-size="10.8" fill="#1c1c1c" stroke="#1c1c1c" stroke-width="0.28">DEL</text>
<rect x="246.20" y="606.80" width="6.20" height="6.40" fill="#FF790E"/>
<text x="257.5" y="613.9" font-size="10.8" fill="#1c1c1c" stroke="#1c1c1c" stroke-width="0.28">DUP</text>
<rect x="302.50" y="606.80" width="6.20" height="6.40" fill="#A6A6A6"/>
<text x="311" y="613.9" font-size="10.8" fill="#1c1c1c" stroke="#1c1c1c" stroke-width="0.28">INS</text>
<rect x="350.00" y="606.80" width="6.20" height="6.40" fill="#FFC000"/>
<text x="361" y="613.9" font-size="10.8" fill="#1c1c1c" stroke="#1c1c1c" stroke-width="0.28">INV</text>
<rect x="399.50" y="606.80" width="6.20" height="6.40" fill="#3F9BDC"/>
<text x="411" y="613.9" font-size="10.8" fill="#1c1c1c" stroke="#1c1c1c" stroke-width="0.28">TRA</text>
<rect x="453.80" y="606.80" width="6.20" height="6.40" fill="#5FB346"/>
<text x="465.5" y="613.9" font-size="10.8" fill="#1c1c1c" stroke="#1c1c1c" stroke-width="0.28">Complex</text>
<text x="18" y="629.5" font-size="16" fill="#111111" stroke="#111111" stroke-width="0.28">d</text>
<text x="150" y="642" font-size="11" fill="#1c1c1c" stroke="#1c1c1c" stroke-width="0.28">Contact domain</text>
<defs>
<radialGradient id="tg" cx="0.5" cy="0.58" r="0.6" fx="0.5" fy="0.38">
<stop offset="0" stop-color="#55CDF6"/><stop offset="0.3" stop-color="#2EB0EC"/><stop offset="0.6" stop-color="#1E84D6"/><stop offset="0.85" stop-color="#1A60C0"/><stop offset="1" stop-color="#194FAC"/>
</radialGradient>
<radialGradient id="hl1" gradientUnits="userSpaceOnUse" cx="134" cy="651" r="13">
<stop offset="0" stop-color="#fff" stop-opacity="0.95"/><stop offset="0.35" stop-color="#fff" stop-opacity="0.55"/><stop offset="1" stop-color="#fff" stop-opacity="0"/>
</radialGradient>
<radialGradient id="hl2" gradientUnits="userSpaceOnUse" cx="235.8" cy="664" r="11">
<stop offset="0" stop-color="#fff" stop-opacity="0.95"/><stop offset="0.35" stop-color="#fff" stop-opacity="0.55"/><stop offset="1" stop-color="#fff" stop-opacity="0"/>
</radialGradient>
</defs>
<path d="M81.8,699.4 L134,645.4 L186.6,699.4 Z" fill="url(#tg)"/><path d="M81.8,699.4 L134,645.4 L186.6,699.4 Z" fill="url(#hl1)"/>
<path d="M193.8,699.4 L235.8,659.2 L278.8,699.4 Z" fill="url(#tg)"/><path d="M193.8,699.4 L235.8,659.2 L278.8,699.4 Z" fill="url(#hl2)"/>
<line x1="87.00" y1="699.60" x2="296.00" y2="699.60" stroke="#B9CCE8" stroke-width="0.8"/>
<rect x="64.50" y="695.00" width="23.00" height="9.50" fill="#8C8C8C"/>
<rect x="177.00" y="695.00" width="23.00" height="9.50" fill="#8C8C8C"/>
<rect x="273.00" y="695.00" width="23.30" height="9.50" fill="#8C8C8C"/>
<text x="53.8" y="691.4" font-size="11" fill="#1c1c1c" stroke="#1c1c1c" stroke-width="0.28">CDB</text>
<text x="277" y="691.4" font-size="11" fill="#1c1c1c" stroke="#1c1c1c" stroke-width="0.28">CDB</text>
<line x1="177.30" y1="704.50" x2="177.30" y2="783.00" stroke="#777" stroke-width="0.9" stroke-dasharray="1.2,1.2"/>
<line x1="199.80" y1="704.50" x2="199.80" y2="783.00" stroke="#777" stroke-width="0.9" stroke-dasharray="1.2,1.2"/>
<line x1="273.30" y1="704.50" x2="273.30" y2="783.00" stroke="#777" stroke-width="0.9" stroke-dasharray="1.2,1.2"/>
<line x1="296.00" y1="704.50" x2="296.00" y2="783.00" stroke="#777" stroke-width="0.9" stroke-dasharray="1.2,1.2"/>
<rect x="138.00" y="711.80" width="5.30" height="12.50" fill="#FF5500"/>
<rect x="235.00" y="711.80" width="5.80" height="12.50" fill="#FF5500"/>
<rect x="164.30" y="731.80" width="48.70" height="12.50" fill="#FF5500"/>
<rect x="260.00" y="731.80" width="49.30" height="12.50" fill="#FF5500"/>
<rect x="185.00" y="753.00" width="4.50" height="12.50" fill="#FF5500"/>
<rect x="282.50" y="753.00" width="4.30" height="12.50" fill="#FF5500"/>
<rect x="154.50" y="770.50" width="31.00" height="12.00" fill="#FF5500"/>
<rect x="253.80" y="770.50" width="30.70" height="12.00" fill="#FF5500"/>
<text x="57" y="725.2" font-size="11" fill="#1c1c1c" stroke="#1c1c1c" stroke-width="0.28">Inter-CDB SVs</text>
<text x="57" y="745.2" font-size="11" fill="#1c1c1c" stroke="#1c1c1c" stroke-width="0.28">Cross-CDB SVs</text>
<text x="57" y="765.6" font-size="11" fill="#1c1c1c" stroke="#1c1c1c" stroke-width="0.28">Intra-CDB SVs</text>
<text x="57" y="783.2" font-size="11" fill="#1c1c1c" stroke="#1c1c1c" stroke-width="0.28">Part-overlap SVs</text>
<text x="377.5" y="628.8" font-size="16" fill="#111111" stroke="#111111" stroke-width="0.28">e</text>
<text x="404.5" y="642" font-size="11" fill="#1c1c1c" stroke="#1c1c1c" stroke-width="0.28">Number and percentage of specific SV in BxPC3</text>
<circle cx="471.3" cy="711.3" r="58.2" fill="#3A6EBF"/>
<path d="M471.3,711.3 L528.37,699.87 A58.2,58.2 0 0 1 528.37,722.73 Z" fill="#3F9BDC" stroke="#fff" stroke-width="1.1" stroke-linejoin="round"/>
<polyline points="528.37,699.87 560.00,668.00" fill="none" stroke="#A6A6A6" stroke-width="0.8"/>
<polyline points="528.37,722.73 560.00,754.30" fill="none" stroke="#A6A6A6" stroke-width="0.8"/>
<rect x="560.00" y="668.00" width="43.00" height="4.20" fill="#FF790E"/>
<rect x="560.00" y="673.60" width="43.00" height="74.00" fill="#A6A6A6"/>
<rect x="560.00" y="749.40" width="43.00" height="4.90" fill="#FFC000"/>
<text x="430" y="706.9" font-size="8.6" text-anchor="middle" fill="#1c1c1c" stroke="#1c1c1c" stroke-width="0.28">10721;</text>
<text x="429.4" y="715.7" font-size="8.6" text-anchor="middle" fill="#1c1c1c" stroke="#1c1c1c" stroke-width="0.28">93.71%</text>
<text x="543.4" y="708.1" font-size="8.6" text-anchor="middle" fill="#1c1c1c" stroke="#1c1c1c" stroke-width="0.28">720;</text>
<text x="543.2" y="717.4" font-size="8.6" text-anchor="middle" fill="#1c1c1c" stroke="#1c1c1c" stroke-width="0.28">6.29%</text>
<text x="608.8" y="673.1" font-size="8.6" fill="#1c1c1c" stroke="#1c1c1c" stroke-width="0.28">48; 0.42%</text>
<text x="608.8" y="714.4" font-size="8.6" fill="#1c1c1c" stroke="#1c1c1c" stroke-width="0.28">619; 5.41%</text>
<text x="608.8" y="755.1" font-size="8.6" fill="#1c1c1c" stroke="#1c1c1c" stroke-width="0.28">53; 0.46%</text>
<rect x="386.30" y="780.50" width="7.30" height="7.50" fill="#3A6EBF"/>
<text x="398" y="788.1999999999999" font-size="10.8" fill="#1c1c1c" stroke="#1c1c1c" stroke-width="0.28">Inter-CDB</text>
<rect x="453.80" y="780.50" width="7.30" height="7.50" fill="#FF790E"/>
<text x="464.5" y="788.1999999999999" font-size="10.8" fill="#1c1c1c" stroke="#1c1c1c" stroke-width="0.28">Cross-CDB</text>
<rect x="533.00" y="780.50" width="7.30" height="7.50" fill="#A6A6A6"/>
<text x="543.8" y="788.1999999999999" font-size="10.8" fill="#1c1c1c" stroke="#1c1c1c" stroke-width="0.28">Inner-CDB</text>
<rect x="606.50" y="780.50" width="7.30" height="7.50" fill="#FFC000"/>
<text x="618.8" y="788.1999999999999" font-size="10.8" fill="#1c1c1c" stroke="#1c1c1c" stroke-width="0.28">Part-overlap</text>
<text x="18.5" y="819.5" font-size="16" fill="#111111" stroke="#111111" stroke-width="0.28">f</text>
<text x="367.2" y="832.2" font-size="11.2" text-anchor="middle" fill="#111111" stroke="#111111" stroke-width="0.28">BxPC3</text>
<path d="M113.80,931.00 L113.80,876.00 A55,55 0 0 1 140.64,979.01 Z" fill="#3A6EBF" stroke="#fff" stroke-width="1.1" stroke-linejoin="round"/>
<path d="M113.80,931.00 L140.64,979.01 A55,55 0 0 1 125.27,984.79 Z" fill="#FF790E" stroke="#fff" stroke-width="1.1" stroke-linejoin="round"/>
<path d="M113.80,931.00 L125.27,984.79 A55,55 0 0 1 98.86,878.07 Z" fill="#A6A6A6" stroke="#fff" stroke-width="1.1" stroke-linejoin="round"/>
<path d="M113.80,931.00 L98.86,878.07 A55,55 0 0 1 100.29,877.68 Z" fill="#FFF3CC" stroke="#fff" stroke-width="1.1" stroke-linejoin="round"/>
<path d="M113.80,931.00 L100.29,877.68 A55,55 0 0 1 113.80,876.00 Z" fill="#3F9BDC" stroke="#fff" stroke-width="1.1" stroke-linejoin="round"/>
<text x="111" y="852.03" font-size="11.2" text-anchor="middle" fill="#1c1c1c" stroke="#1c1c1c" stroke-width="0.28">Inter -CDB</text>
<text x="149.4" y="913.9" font-size="8.6" text-anchor="middle" fill="#1c1c1c" stroke="#1c1c1c" stroke-width="0.28">4491;</text>
<text x="148.6" y="923.9" font-size="8.6" text-anchor="middle" fill="#1c1c1c" stroke="#1c1c1c" stroke-width="0.28">41.89%</text>
<text x="76.5" y="933.9" font-size="8.6" text-anchor="middle" fill="#1c1c1c" stroke="#1c1c1c" stroke-width="0.28">5250;</text>
<text x="76.6" y="943.6" font-size="8.6" text-anchor="middle" fill="#1c1c1c" stroke="#1c1c1c" stroke-width="0.28">48.97%</text>
<text x="150.4" y="995.6" font-size="8.6" text-anchor="middle" fill="#1c1c1c" stroke="#1c1c1c" stroke-width="0.28">511; 4.77%</text>
<text x="103.8" y="871.1" font-size="8.6" text-anchor="middle" fill="#1c1c1c" stroke="#1c1c1c" stroke-width="0.28">423; 3.95%</text>
<text x="52.5" y="874.9" font-size="8.6" text-anchor="middle" fill="#1c1c1c" stroke="#1c1c1c" stroke-width="0.28">46; 0.43%</text>
<polyline points="72.50,873.00 98.80,878.00" fill="none" stroke="#9C9C9C" stroke-width="1.1"/>
<path d="M280.00,928.80 L280.00,873.80 A55,55 0 1 1 232.36,956.29 Z" fill="#3A6EBF" stroke="#fff" stroke-width="1.1" stroke-linejoin="round"/>
<path d="M280.00,928.80 L232.36,956.29 A55,55 0 0 1 236.37,895.31 Z" fill="#FF790E" stroke="#fff" stroke-width="1.1" stroke-linejoin="round"/>
<path d="M280.00,928.80 L236.37,895.31 A55,55 0 0 1 241.11,889.91 Z" fill="#A6A6A6" stroke="#fff" stroke-width="1.1" stroke-linejoin="round"/>
<path d="M280.00,928.80 L241.11,889.91 A55,55 0 0 1 280.00,873.80 Z" fill="#FFC000" stroke="#fff" stroke-width="1.1" stroke-linejoin="round"/>
<text x="277.5" y="851.03" font-size="11.2" text-anchor="middle" fill="#1c1c1c" stroke="#1c1c1c" stroke-width="0.28">Cross -CDB</text>
<text x="279.8" y="868.1" font-size="8.6" text-anchor="middle" fill="#1c1c1c" stroke="#1c1c1c" stroke-width="0.28">0; 0.00%</text>
<text x="218.4" y="888.9" font-size="8.6" text-anchor="middle" fill="#1c1c1c" stroke="#1c1c1c" stroke-width="0.28">1; 2.08%</text>
<text x="262" y="887.4" font-size="8.6" text-anchor="middle" fill="#1c1c1c" stroke="#1c1c1c" stroke-width="0.28">6 ;</text>
<text x="266.3" y="896.9" font-size="8.6" text-anchor="middle" fill="#1c1c1c" stroke="#1c1c1c" stroke-width="0.28">12.50%</text>
<text x="245" y="931.1" font-size="8.6" text-anchor="middle" fill="#1c1c1c" stroke="#1c1c1c" stroke-width="0.28">9;18.75%</text>
<text x="302.5" y="941.4" font-size="8.6" text-anchor="middle" fill="#1c1c1c" stroke="#1c1c1c" stroke-width="0.28">32;</text>
<text x="304.4" y="950.6" font-size="8.6" text-anchor="middle" fill="#1c1c1c" stroke="#1c1c1c" stroke-width="0.28">66.67%</text>
<path d="M447.00,927.20 L447.00,873.20 A54,54 0 0 1 475.37,973.15 Z" fill="#3A6EBF" stroke="#fff" stroke-width="1.1" stroke-linejoin="round"/>
<path d="M447.00,927.20 L475.37,973.15 A54,54 0 0 1 453.28,980.83 Z" fill="#FF790E" stroke="#fff" stroke-width="1.1" stroke-linejoin="round"/>
<path d="M447.00,927.20 L453.28,980.83 A54,54 0 0 1 429.25,876.20 Z" fill="#A6A6A6" stroke="#fff" stroke-width="1.1" stroke-linejoin="round"/>
<path d="M447.00,927.20 L429.25,876.20 A54,54 0 0 1 430.28,875.85 Z" fill="#FFF3CC" stroke="#fff" stroke-width="1.1" stroke-linejoin="round"/>
<path d="M447.00,927.20 L430.28,875.85 A54,54 0 0 1 447.00,873.20 Z" fill="#3F9BDC" stroke="#fff" stroke-width="1.1" stroke-linejoin="round"/>
<text x="445.6" y="851.53" font-size="11.2" text-anchor="middle" fill="#1c1c1c" stroke="#1c1c1c" stroke-width="0.28" word-spacing="-2.2">Inner -CDB</text>
<text x="393.5" y="868.81" font-size="9.2" text-anchor="middle" fill="#1c1c1c" stroke="#1c1c1c" stroke-width="0.28">2; 0.32%</text>
<text x="438.8" y="868.81" font-size="9.2" text-anchor="middle" fill="#1c1c1c" stroke="#1c1c1c" stroke-width="0.28">31; 5.01%</text>
<text x="462.3" y="924.61" font-size="9.2" text-anchor="middle" fill="#1c1c1c" stroke="#1c1c1c" stroke-width="0.28">255 ;</text>
<text x="478.5" y="935.81" font-size="9.2" text-anchor="middle" fill="#1c1c1c" stroke="#1c1c1c" stroke-width="0.28">41.20%</text>
<text x="406" y="935.81" font-size="9.2" text-anchor="middle" fill="#1c1c1c" stroke="#1c1c1c" stroke-width="0.28">288 ;</text>
<text x="416.6" y="947.61" font-size="9.2" text-anchor="middle" fill="#1c1c1c" stroke="#1c1c1c" stroke-width="0.28">46.53%</text>
<text x="486.5" y="983.31" font-size="9.2" text-anchor="middle" fill="#1c1c1c" stroke="#1c1c1c" stroke-width="0.28">43 ; 6.95%</text>
<polyline points="411.30,868.80 428.80,876.30" fill="none" stroke="#9C9C9C" stroke-width="1.1"/>
<path d="M607.80,928.40 L607.80,873.70 A54.7,54.7 0 0 1 635.61,975.50 Z" fill="#3A6EBF" stroke="#fff" stroke-width="1.1" stroke-linejoin="round"/>
<path d="M607.80,928.40 L635.61,975.50 A54.7,54.7 0 0 1 574.60,971.87 Z" fill="#FF790E" stroke="#fff" stroke-width="1.1" stroke-linejoin="round"/>
<path d="M607.80,928.40 L574.60,971.87 A54.7,54.7 0 0 1 577.25,883.02 Z" fill="#A6A6A6" stroke="#fff" stroke-width="1.1" stroke-linejoin="round"/>
<path d="M607.80,928.40 L577.25,883.02 A54.7,54.7 0 0 1 607.80,873.70 Z" fill="#FFC000" stroke="#fff" stroke-width="1.1" stroke-linejoin="round"/>
<text x="604.4" y="851.03" font-size="11.2" text-anchor="middle" fill="#1c1c1c" stroke="#1c1c1c" stroke-width="0.28" word-spacing="-3">Part -Overlap</text>
<text x="560" y="869.1" font-size="10" text-anchor="middle" fill="#1c1c1c" stroke="#1c1c1c" stroke-width="0.28">5;9.43%</text>
<text x="607" y="870.4" font-size="10" text-anchor="middle" fill="#1c1c1c" stroke="#1c1c1c" stroke-width="0.28">0;0.00%</text>
<text x="638.5" y="924.9" font-size="10" text-anchor="middle" fill="#1c1c1c" stroke="#1c1c1c" stroke-width="0.28">22;41.51%</text>
<text x="579" y="931.6" font-size="10" text-anchor="middle" fill="#1c1c1c" stroke="#1c1c1c" stroke-width="0.28">16;30.19%</text>
<text x="605.3" y="973.6" font-size="10" text-anchor="middle" fill="#1c1c1c" stroke="#1c1c1c" stroke-width="0.28">10; 18.87%</text>
<polyline points="579.50,867.50 590.50,875.50" fill="none" stroke="#9C9C9C" stroke-width="1.1"/>
<rect x="298.00" y="999.70" width="5.00" height="5.20" fill="#3A6EBF"/>
<text x="305" y="1006.1999999999999" font-size="10.8" fill="#1c1c1c" stroke="#1c1c1c" stroke-width="0.28">DEL</text>
<rect x="330.70" y="999.70" width="5.00" height="5.20" fill="#FF790E"/>
<text x="338" y="1006.1999999999999" font-size="10.8" fill="#1c1c1c" stroke="#1c1c1c" stroke-width="0.28">DUP</text>
<rect x="365.00" y="999.70" width="5.00" height="5.20" fill="#A6A6A6"/>
<text x="372" y="1006.1999999999999" font-size="10.8" fill="#1c1c1c" stroke="#1c1c1c" stroke-width="0.28">INS</text>
<rect x="394.30" y="999.70" width="5.00" height="5.20" fill="#FFC000"/>
<text x="401.8" y="1006.1999999999999" font-size="10.8" fill="#1c1c1c" stroke="#1c1c1c" stroke-width="0.28">INV</text>
<rect x="425.00" y="999.70" width="5.00" height="5.20" fill="#3F9BDC"/>
<text x="432.5" y="1006.1999999999999" font-size="10.8" fill="#1c1c1c" stroke="#1c1c1c" stroke-width="0.28">TRA</text>
</svg>
</body></html>
